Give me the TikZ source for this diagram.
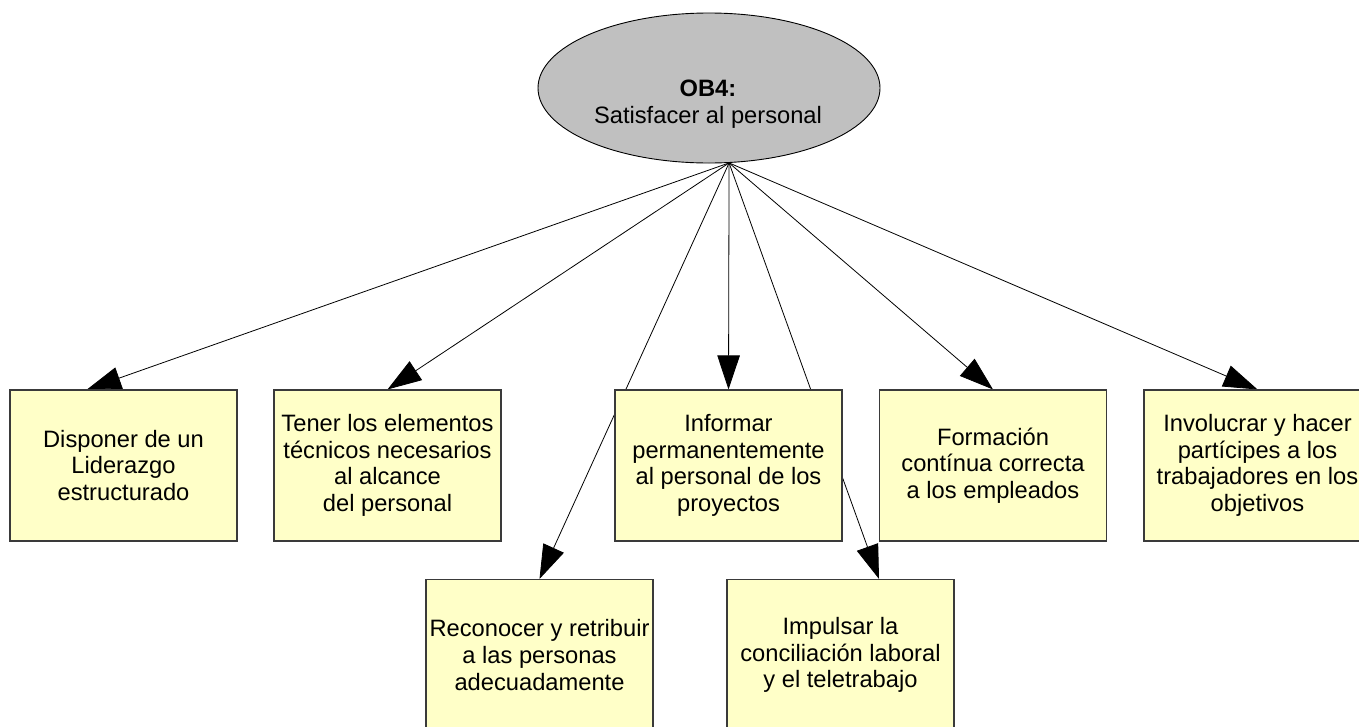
\documentclass[tikz,border=0pt]{standalone}
\usepackage{fontspec}
\setmainfont{Liberation Sans}
\usetikzlibrary{shapes.geometric,arrows.meta,backgrounds}
\definecolor{boxfill}{HTML}{FFFFC8}
\definecolor{boxline}{HTML}{3A3A3A}
\definecolor{goalfill}{HTML}{C0C0C0}
\begin{document}
\begin{tikzpicture}[x=1pt,y=-1pt,
  every node/.style={font=\fontsize{23.7}{26.6}\selectfont, align=center, inner sep=0pt},
  goal/.style={ellipse, draw=black, line width=0.9pt, fill=goalfill,
    minimum width=342pt, minimum height=150pt},
  taskbox/.style={rectangle, draw=boxline, line width=1.1pt, fill=boxfill,
    minimum width=227pt, minimum height=151pt},
  link/.style={draw=black, line width=0.8pt, -{Triangle[length=34pt,width=22.5pt]}}]
\useasboundingbox (0,0) rectangle (1359,726);

% objective
\node[goal] (ob) at (709,88) {};
\node (obtext) at (708,104) {\textbf{OB4:}\\Satisfacer al personal};

% upper row of actions
\node[taskbox] (b1) at (123.5,465.5) {Disponer de un\\Liderazgo\\estructurado};
\node[taskbox] (b2) at (387.5,465.5) {Tener los elementos\\técnicos necesarios\\al alcance\\del personal};
\node[taskbox] (b3) at (728.5,465.5) {Informar\\permanentemente\\al personal de los\\proyectos};
\node[taskbox] (b4) at (993,465.5) {Formación\\contínua correcta\\a los empleados};
\node[taskbox] (b5) at (1257.5,465.5) {Involucrar y hacer\\partícipes a los\\trabajadores en los\\objetivos};

% lower row of actions
\node[taskbox] (b6) at (539.5,655) {Reconocer y retribuir\\a las personas\\adecuadamente};
\node[taskbox] (b7) at (840.5,655) {Impulsar la\\conciliación laboral\\y el teletrabajo};

% white page and connectors from the objective, behind the boxes
\begin{pgfonlayer}{background}
  \fill[white] (0,0) rectangle (1359,726);
  \coordinate (hub) at (ob.-75.8);
  \draw[link] (hub) -- ([xshift=-36.5pt]b1.north);
  \draw[link] (hub) -- (b2.north);
  \draw[link] (hub) -- (b3.north);
  \draw[link] (hub) -- (b4.north);
  \draw[link] (hub) -- (b5.north);
  \draw[link] (hub) -- (b6.north);
  \draw[link] (hub) -- ([xshift=38.5pt]b7.north);
\end{pgfonlayer}
\end{tikzpicture}
\end{document}
